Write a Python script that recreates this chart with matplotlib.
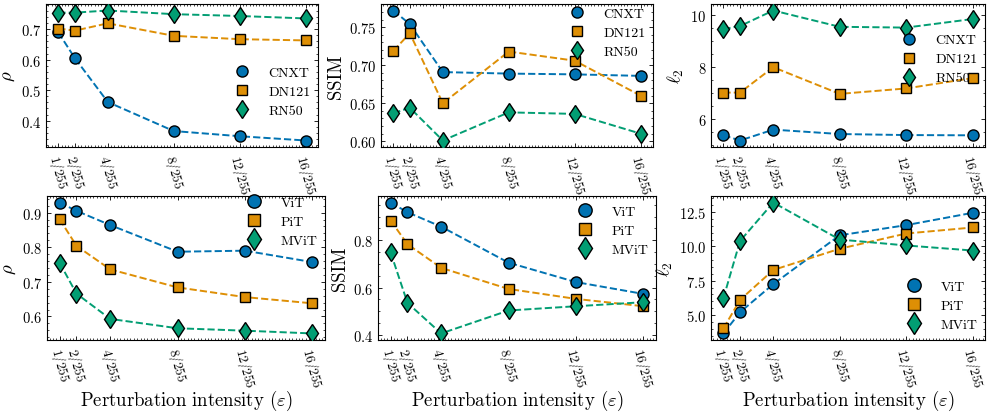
import matplotlib
matplotlib.use("Agg")
import matplotlib.pyplot as plt
from matplotlib.lines import Line2D
from matplotlib.ticker import AutoMinorLocator, FixedLocator, MultipleLocator

plt.rcParams.update({
    "font.family": "serif",
    "font.serif": ["cmr10"],
    "mathtext.fontset": "cm",
    "axes.formatter.use_mathtext": True,
    "font.size": 10,
    "axes.linewidth": 0.8,
    "xtick.direction": "in",
    "ytick.direction": "in",
    "xtick.top": True,
    "ytick.right": True,
    "xtick.major.size": 3,
    "ytick.major.size": 3,
    "xtick.minor.size": 1.5,
    "ytick.minor.size": 1.5,
    "xtick.major.width": 0.6,
    "ytick.major.width": 0.6,
    "xtick.minor.width": 0.5,
    "ytick.minor.width": 0.5,
    "xtick.labelsize": 10,
    "ytick.labelsize": 10.5,
})

eps = [1, 2, 4, 8, 12, 16]
eps_labels = [r"$1/255$", r"$2/255$", r"$4/255$", r"$8/255$", r"$12/255$", r"$16/255$"]

cnn_names = ["CNXT", "DN121", "RN50"]
vit_names = ["ViT", "PiT", "MViT"]

rho_cnn = {
    "CNXT": [0.689, 0.605, 0.461, 0.366, 0.349, 0.335],
    "DN121": [0.702, 0.695, 0.719, 0.678, 0.667, 0.663],
    "RN50": [0.754, 0.754, 0.761, 0.749, 0.743, 0.735],
}
ssim_cnn = {
    "CNXT": [0.772, 0.754, 0.691, 0.689, 0.688, 0.686],
    "DN121": [0.719, 0.742, 0.650, 0.718, 0.706, 0.660],
    "RN50": [0.637, 0.644, 0.601, 0.638, 0.636, 0.610],
}
l2_cnn = {
    "CNXT": [5.37, 5.17, 5.59, 5.42, 5.38, 5.37],
    "DN121": [7.02, 7.02, 8.00, 6.97, 7.18, 7.58],
    "RN50": [9.47, 9.59, 10.19, 9.56, 9.53, 9.86],
}
rho_vit = {
    "ViT": [0.929, 0.905, 0.864, 0.787, 0.790, 0.757],
    "PiT": [0.881, 0.804, 0.736, 0.684, 0.656, 0.638],
    "MViT": [0.755, 0.666, 0.593, 0.566, 0.559, 0.551],
}
ssim_vit = {
    "ViT": [0.959, 0.918, 0.857, 0.705, 0.623, 0.573],
    "PiT": [0.883, 0.783, 0.683, 0.594, 0.552, 0.521],
    "MViT": [0.748, 0.535, 0.406, 0.503, 0.521, 0.538],
}
l2_vit = {
    "ViT": [3.65, 5.20, 7.25, 10.81, 11.55, 12.45],
    "PiT": [4.02, 6.10, 8.28, 9.83, 10.94, 11.38],
    "MViT": [6.23, 10.40, 13.20, 10.50, 10.07, 9.70],
}

colors = ["#0173B2", "#DE8F05", "#029E73"]
markers = ["o", "s", "d"]

W, H = 992, 414
fig = plt.figure(figsize=(W / 100, H / 100), dpi=100)


def px_axes(l, r, t, b):
    return fig.add_axes([l / W, 1 - b / H, (r - l) / W, (b - t) / H])


panels = [
    # data, names, ylabel, box(l, r, t, b), y tick step, legend anchor y, legend marker scale
    (rho_cnn, cnn_names, r"$\rho$", (46, 318, 5, 148), 0.1, 0.39, 1.0),
    (ssim_cnn, cnn_names, "SSIM", (381, 653, 5, 148), 0.05, 0.80, 1.0),
    (l2_cnn, cnn_names, r"$\ell_2$", (711, 985, 5, 148), 2, 0.615, 1.0),
    (rho_vit, vit_names, r"$\rho$", (47, 325, 197, 341), 0.1, 0.82, 1.2),
    (ssim_vit, vit_names, "SSIM", (378, 656, 197, 341), 0.2, 0.76, 1.2),
    (l2_vit, vit_names, r"$\ell_2$", (711, 985, 197, 341), 2.5, 0.24, 1.2),
]

MS = 8


def msize(m):
    return MS + (1.5 if m == "d" else 0) - (0.5 if m == "s" else 0)


for i, (data, names, ylab, box, ystep, ay, mscale) in enumerate(panels):
    ax = px_axes(*box)
    for name, c, m in zip(names, colors, markers):
        ax.plot(eps, data[name], linestyle="--", color=c, lw=1.4, marker=m,
                markersize=msize(m), markerfacecolor=c, markeredgecolor="black",
                markeredgewidth=1.0, zorder=3)
    ax.xaxis.set_major_locator(FixedLocator(eps))
    ax.set_xticklabels(eps_labels, rotation=-75, fontsize=9.5)
    ax.xaxis.set_minor_locator(AutoMinorLocator())
    ax.yaxis.set_major_locator(MultipleLocator(ystep))
    ax.yaxis.set_minor_locator(AutoMinorLocator())
    ax.set_ylabel(ylab, fontsize=13.5, labelpad=3)
    if i >= 3:
        ax.set_xlabel(r"Perturbation intensity ($\varepsilon$)", fontsize=13.5)
        ax.xaxis.set_label_coords(0.5, -0.33)
    handles = [Line2D([], [], ls="none", marker=m, markersize=msize(m),
                      markerfacecolor=c, markeredgecolor="black", markeredgewidth=1.0)
               for c, m in zip(colors, markers)]
    ax.legend(handles, names, loc="center right", bbox_to_anchor=(1, ay),
              frameon=False, fontsize=10, markerscale=mscale, handletextpad=0.9,
              labelspacing=0.45, borderaxespad=0.15)

fig.savefig("out.png", dpi=100)
